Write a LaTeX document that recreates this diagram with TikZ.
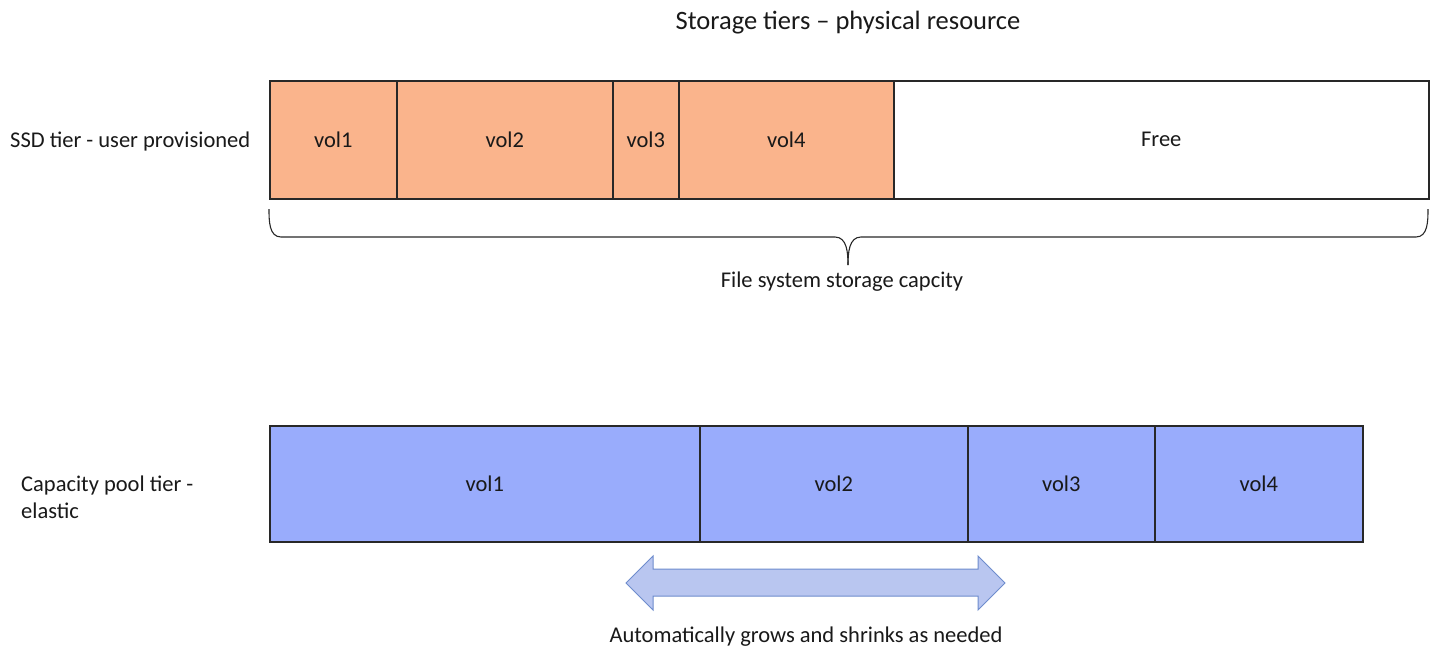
\documentclass[tikz,border=0pt]{standalone}
\usepackage{fontspec}
\setmainfont{Carlito}
\definecolor{ssdfill}{RGB}{250,180,140}
\definecolor{poolfill}{RGB}{153,172,252}
\definecolor{edge}{RGB}{40,40,40}
\definecolor{arrfill}{RGB}{185,198,240}
\definecolor{arredge}{RGB}{110,140,205}
\definecolor{txt}{RGB}{25,25,25}
\begin{document}
\begin{tikzpicture}[x=1pt,y=-1pt,
  every node/.style={text=txt,font=\fontsize{22.5}{27}\selectfont},
  box/.style={draw=edge,line width=1.5pt,anchor=north west,inner sep=0pt,minimum height=#1},
  ssd/.style={box=118pt,fill=ssdfill},
  free/.style={box=118pt,fill=white},
  pool/.style={box=116pt,fill=poolfill},
  lbl/.style={inner sep=0pt,align=left}]
\useasboundingbox[fill=white] (0,0) rectangle (1435,648);
\node[font=\fontsize{26.5}{31}\selectfont] (title) at (848,23) {Storage tiers -- physical resource};
% SSD tier
\node[lbl,anchor=west] (ssdlbl) at (10,141) {SSD tier - user provisioned};
\node[free,minimum width=535pt,text depth=-3pt] (free) at (893,80) {Free};
\node[ssd,minimum width=127pt] (s1) at (269,80) {vol1};
\node[ssd,minimum width=216pt] (s2) at (396,80) {vol2};
\node[ssd,minimum width=66pt] (s3) at (612,80) {vol3};
\node[ssd,minimum width=215pt] (s4) at (678,80) {vol4};
% brace
\coordinate (bl) at (269,209);
\coordinate (br) at (1428,209);
\coordinate (bt) at (848,265);
\draw[edge,line width=1.1pt] (bl) to[out=-90,in=180] (281,237) -- (835,237) to[out=0,in=90] (bt);
\draw[edge,line width=1.1pt] (br) to[out=-90,in=0] (1416,237) -- (861,237) to[out=180,in=90] (bt);
\node (cap) at (842,282) {File system storage capcity};
% capacity pool tier
\node[lbl,anchor=west] (poollbl) at (21,497) {Capacity pool tier -\\elastic};
\node[pool,minimum width=430pt] (p1) at (269,425) {vol1};
\node[pool,minimum width=268pt] (p2) at (699,425) {vol2};
\node[pool,minimum width=187pt] (p3) at (967,425) {vol3};
\node[pool,minimum width=208pt] (p4) at (1154,425) {vol4};
% double arrow
\draw[fill=arrfill,draw=arredge,line width=1pt,line join=miter]
  (626,583) -- (653,556) -- (653,569) -- (978,569) -- (978,556) -- (1005,583)
  -- (978,610) -- (978,596) -- (653,596) -- (653,610) -- cycle;
\node (grow) at (806,637) {Automatically grows and shrinks as needed};
\end{tikzpicture}
\end{document}
